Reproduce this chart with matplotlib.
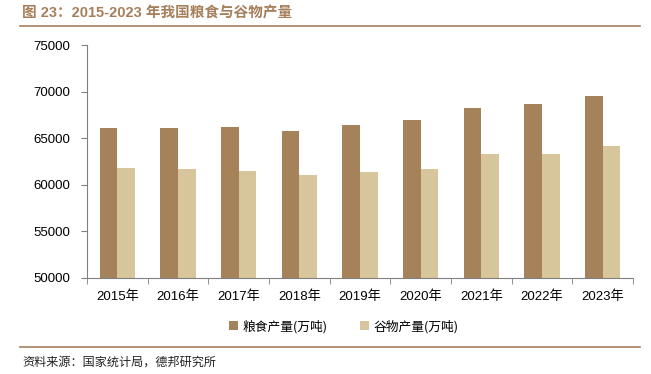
import numpy as np
import matplotlib
matplotlib.use('Agg')
import matplotlib.pyplot as plt
from matplotlib.lines import Line2D

plt.rcParams['font.family'] = ['Liberation Sans', 'Noto Sans CJK SC']

years = ['2015年', '2016年', '2017年', '2018年', '2019年', '2020年', '2021年', '2022年', '2023年']
grain = [66060, 66044, 66161, 65789, 66384, 66949, 68285, 68653, 69541]
cereal = [61818, 61667, 61521, 61004, 61370, 61674, 63276, 63324, 64143]
yticks = [50000, 55000, 60000, 65000, 70000, 75000]

c_grain = '#A6825A'
c_cereal = '#D7C59B'
c_title = '#A67F5B'
c_axis = '#808080'

fig = plt.figure(figsize=(6.51, 3.74), dpi=100)
ax = fig.add_axes([87 / 651, 1 - 278 / 374, (633 - 87) / 651, (278 - 45) / 374])

x = np.arange(len(years))
w = 0.29
ax.bar(x - w / 2, grain, w, color=c_grain, label='粮食产量(万吨)', zorder=2)
ax.bar(x + w / 2, cereal, w, color=c_cereal, label='谷物产量(万吨)', zorder=2)

ax.set_ylim(50000, 75000)
ax.set_xlim(-0.5, len(years) - 0.5)
ax.set_yticks(yticks)
ax.set_yticklabels([str(v) for v in yticks], fontsize=9.5)
ax.set_xticks(x)
ax.set_xticklabels(years, fontsize=9.5)
ax.set_xticks(np.arange(len(years) + 1) - 0.5, minor=True)
ax.tick_params(axis='x', which='major', length=0, pad=9)
ax.tick_params(axis='x', which='minor', length=4, color=c_axis, direction='out')
ax.tick_params(axis='y', length=4, color=c_axis, pad=8)
for s in ['top', 'right']:
    ax.spines[s].set_visible(False)
for s in ['left', 'bottom']:
    ax.spines[s].set_color(c_axis)
    ax.spines[s].set_linewidth(0.8)

ax.legend(loc='upper center', bbox_to_anchor=(0.47, -0.13), ncol=2, frameon=False,
          handlelength=0.7, handleheight=0.7, handletextpad=0.3, columnspacing=2.6,
          prop={'family': ['Noto Sans CJK SC'], 'size': 9.2})

fig.text(22 / 651, 1 - 13 / 374, '图 23：2015-2023 年我国粮食与谷物产量', fontsize=10.5,
         fontweight='bold', color=c_title, va='center', ha='left')
fig.add_artist(Line2D([20 / 651, 640 / 651], [1 - 26 / 374, 1 - 26 / 374], color=c_title, lw=1.2))
fig.add_artist(Line2D([20 / 651, 640 / 651], [1 - 347 / 374, 1 - 347 / 374], color=c_title, lw=1.2))
fig.text(22 / 651, 1 - 362 / 374, '资料来源：国家统计局，德邦研究所', fontsize=8.7, color='#222222',
         va='center', ha='left', family=['Noto Sans CJK SC'])

fig.savefig('out.png', dpi=100)
